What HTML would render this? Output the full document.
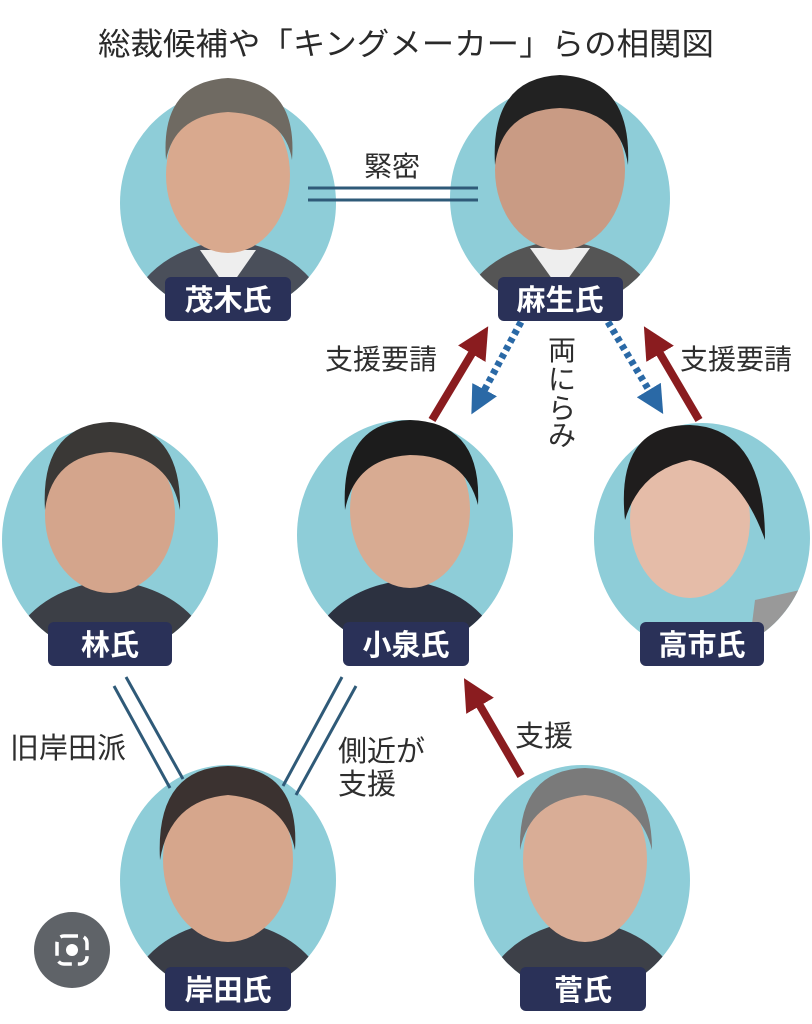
<!DOCTYPE html>
<html><head><meta charset="utf-8"><style>
html,body{margin:0;padding:0;background:#fff;}
svg{display:block;}
text{font-family:"Liberation Sans","Noto Sans CJK JP",sans-serif;}
</style></head><body>
<svg width="812" height="1024" viewBox="0 0 812 1024" xmlns="http://www.w3.org/2000/svg">
<defs>
<marker id="ra" markerWidth="4" markerHeight="4" refX="2" refY="2" orient="auto" markerUnits="strokeWidth"><path d="M0,0 L4,2 L0,4 z" fill="#8a1c1f"/></marker>
<marker id="ba" markerWidth="4" markerHeight="4" refX="2" refY="2" orient="auto" markerUnits="strokeWidth"><path d="M0,0 L4,2 L0,4 z" fill="#2a69a6"/></marker>
</defs>
<rect width="812" height="1024" fill="#fff"/>
<text x="406" y="55" font-size="31" fill="#2a2a2a" text-anchor="middle" textLength="616" lengthAdjust="spacingAndGlyphs">総裁候補や「キングメーカー」らの相関図</text>

<g>
<clipPath id="c1"><ellipse cx="228" cy="203" rx="108" ry="112"/></clipPath>
<ellipse cx="228" cy="203" rx="108" ry="112" fill="#8ecdd8"/>
<g clip-path="url(#c1)">
<path d="M120,330 Q140,250 228,240 Q316,250 336,330 Z" fill="#4a4f5a"/>
<path d="M200,250 L228,290 L256,250 Z" fill="#eee"/>
<ellipse cx="228" cy="175" rx="62" ry="78" fill="#d9a98e"/>
</g>
<path d="M166,160 Q160,82 228,78 Q298,82 292,160 Q285,115 228,112 Q175,115 166,160 Z" fill="#6f6a62"/>
</g>
<g>
<clipPath id="c2"><ellipse cx="560" cy="198" rx="110" ry="112"/></clipPath>
<ellipse cx="560" cy="198" rx="110" ry="112" fill="#8ecdd8"/>
<g clip-path="url(#c2)">
<path d="M450,330 Q470,250 560,240 Q650,250 670,330 Z" fill="#555"/>
<path d="M530,248 L560,290 L590,248 Z" fill="#eee"/>
<ellipse cx="560" cy="170" rx="65" ry="80" fill="#c99b84"/>
</g>
<path d="M495,165 Q490,78 560,75 Q632,78 628,165 Q620,110 560,108 Q502,110 495,165 Z" fill="#222"/>
</g>
<g>
<clipPath id="c3"><ellipse cx="110" cy="540" rx="108" ry="115"/></clipPath>
<ellipse cx="110" cy="540" rx="108" ry="115" fill="#8ecdd8"/>
<g clip-path="url(#c3)">
<path d="M0,670 Q20,590 110,580 Q200,590 220,670 Z" fill="#3c3f46"/>
<ellipse cx="110" cy="515" rx="65" ry="78" fill="#d4a58c"/>
</g>
<path d="M45,510 Q40,425 110,422 Q182,425 180,510 Q170,455 110,452 Q52,455 45,510 Z" fill="#3a3836"/>
</g>
<g>
<clipPath id="c4"><ellipse cx="405" cy="535" rx="108" ry="115"/></clipPath>
<ellipse cx="405" cy="535" rx="108" ry="115" fill="#8ecdd8"/>
<g clip-path="url(#c4)">
<path d="M300,670 Q320,590 405,580 Q490,590 510,670 Z" fill="#2c3140"/>
<ellipse cx="410" cy="510" rx="60" ry="78" fill="#d8ab92"/>
</g>
<path d="M345,510 Q340,422 410,420 Q482,422 478,505 Q465,455 410,455 Q355,458 345,510 Z" fill="#1c1c1c"/>
</g>
<g>
<clipPath id="c5"><ellipse cx="702" cy="538" rx="108" ry="115"/></clipPath>
<ellipse cx="702" cy="538" rx="108" ry="115" fill="#8ecdd8"/>
<g clip-path="url(#c5)">
<ellipse cx="690" cy="520" rx="60" ry="78" fill="#e5bca8"/>
<path d="M755,600 L800,590 L800,640 L750,640 Z" fill="#999"/>
</g>
<path d="M625,520 Q615,425 690,425 Q765,428 765,540 Q740,470 690,460 Q640,470 625,520 Z" fill="#1f1d1d"/>
</g>
<g>
<clipPath id="c6"><ellipse cx="228" cy="880" rx="108" ry="115"/></clipPath>
<ellipse cx="228" cy="880" rx="108" ry="115" fill="#8ecdd8"/>
<g clip-path="url(#c6)">
<path d="M120,1010 Q140,930 228,920 Q316,930 336,1010 Z" fill="#3a3d46"/>
<ellipse cx="228" cy="860" rx="65" ry="82" fill="#d6a68c"/>
</g>
<path d="M160,860 Q155,768 228,766 Q300,768 295,850 Q285,800 228,795 Q170,800 160,860 Z" fill="#3b3230"/>
</g>
<g>
<clipPath id="c7"><ellipse cx="582" cy="880" rx="108" ry="115"/></clipPath>
<ellipse cx="582" cy="880" rx="108" ry="115" fill="#8ecdd8"/>
<g clip-path="url(#c7)">
<path d="M475,1010 Q495,930 582,920 Q670,930 690,1010 Z" fill="#3d4048"/>
<ellipse cx="585" cy="860" rx="62" ry="82" fill="#d9ad96"/>
</g>
<path d="M520,850 Q518,770 585,768 Q652,770 652,850 Q640,800 585,795 Q530,800 520,850 Z" fill="#7a7a7a"/>
</g>

<g fill="#2a3158">
<rect x="165" y="277" width="126" height="44" rx="6"/>
<rect x="498" y="277" width="125" height="44" rx="6"/>
<rect x="48" y="622" width="124" height="44" rx="6"/>
<rect x="343" y="622" width="126" height="44" rx="6"/>
<rect x="640" y="622" width="124" height="44" rx="6"/>
<rect x="165" y="967" width="126" height="44" rx="6"/>
<rect x="520" y="967" width="126" height="44" rx="6"/>
</g>
<g fill="#fff" font-size="29" font-weight="bold" text-anchor="middle">
<text x="228" y="310">茂木氏</text>
<text x="560" y="310">麻生氏</text>
<text x="110" y="655">林氏</text>
<text x="406" y="655">小泉氏</text>
<text x="702" y="655">高市氏</text>
<text x="228" y="1000">岸田氏</text>
<text x="583" y="1000">菅氏</text>
</g>

<g stroke="#2f5a78" stroke-width="3">
<line x1="308" y1="188" x2="478" y2="188"/>
<line x1="308" y1="200" x2="478" y2="200"/>
<line x1="114" y1="686" x2="170" y2="788"/>
<line x1="126" y1="677" x2="183" y2="779"/>
<line x1="342" y1="677" x2="283" y2="786"/>
<line x1="356" y1="686" x2="296" y2="795"/>
</g>
<g stroke="#8a1c1f" stroke-width="8" fill="none">
<line x1="432" y1="420" x2="480" y2="340" marker-end="url(#ra)"/>
<line x1="699" y1="420" x2="652" y2="340" marker-end="url(#ra)"/>
<line x1="521" y1="776" x2="472" y2="692" marker-end="url(#ra)"/>
</g>
<g stroke="#2a69a6" stroke-width="7" fill="none" stroke-dasharray="5 4">
<line x1="521" y1="322" x2="478" y2="402" marker-end="url(#ba)"/>
<line x1="608" y1="322" x2="656" y2="402" marker-end="url(#ba)"/>
</g>

<g fill="#2e2e2e" font-size="28">
<text x="392" y="176" text-anchor="middle">緊密</text>
<text x="325" y="369">支援要請</text>
<text x="680" y="369">支援要請</text>
<text x="562" y="360" text-anchor="middle">両</text>
<text x="562" y="389" text-anchor="middle">に</text>
<text x="562" y="418" text-anchor="middle">ら</text>
<text x="562" y="445" text-anchor="middle">み</text>
<text x="10" y="758" font-size="29">旧岸田派</text>
<text x="338" y="761" font-size="29">側近が</text>
<text x="338" y="794" font-size="29">支援</text>
<text x="515" y="746" font-size="29">支援</text>
</g>

<circle cx="72" cy="950" r="38" fill="#5f6368"/>
<rect x="57" y="936" width="30" height="28" rx="7" fill="none" stroke="#fff" stroke-width="3.5" stroke-dasharray="14 6"/>
<circle cx="72" cy="950" r="6" fill="#fff"/>
</svg>
</body></html>
